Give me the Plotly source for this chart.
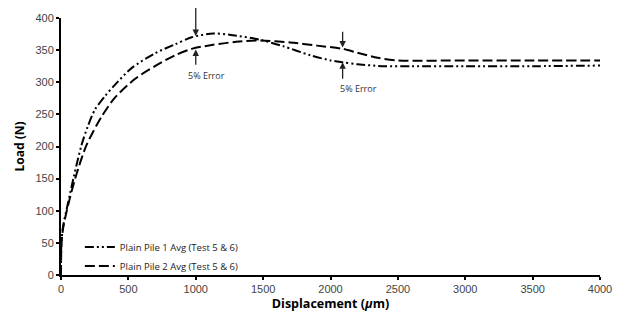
import plotly.graph_objects as go

# Series 1: Plain Pile 1 Avg (Test 5 & 6)
x1 = [0, 3, 15, 50, 95, 152, 200, 251, 325, 400, 524, 697, 846, 970, 1130, 1250, 1478,
      1650, 1850, 2000, 2090, 2200, 2400, 2600, 3000, 3500, 4000]
y1 = [0, 50, 75, 110, 153, 202, 232, 257, 278, 296, 322, 345, 359, 370, 376, 374, 366,
      356, 342, 334, 331, 328, 325, 325, 325, 325, 326]

# Series 2: Plain Pile 2 Avg (Test 5 & 6)
x2 = [0, 3, 15, 52, 105, 189, 300, 400, 548, 697, 846, 970, 1119, 1300, 1478,
      1700, 1900, 2090, 2200, 2350, 2500, 3000, 3500, 4000]
y2 = [0, 45, 72, 108, 150, 202, 246, 276, 305, 325, 342, 352, 358, 363, 365,
      362, 357, 352, 346, 338, 334, 334, 334, 334]

names = ["Plain Pile 1 Avg (Test 5 & 6)", "Plain Pile 2 Avg (Test 5 & 6)"]
x_ticks = [0, 500, 1000, 1500, 2000, 2500, 3000, 3500, 4000]
y_ticks = [0, 50, 100, 150, 200, 250, 300, 350, 400]

# Annotation arrows: (x, tail_y, tip_y)
arrows = [(1000, 418, 372), (1000, 325, 351), (2090, 381, 354), (2090, 303, 331)]
labels = [(1077, 311, "5% Error"), (2206, 290, "5% Error")]

fig = go.Figure()
fig.add_trace(go.Scatter(x=x1, y=y1, mode="lines", name=names[0],
                         line=dict(color="black", width=2, dash="9px,3px,2px,3px,2px,3px",
                                   shape="spline", smoothing=0.8)))
fig.add_trace(go.Scatter(x=x2, y=y2, mode="lines", name=names[1],
                         line=dict(color="black", width=2, dash="10px,4px",
                                   shape="spline", smoothing=0.8)))

for (ax_, t, h) in arrows:
    fig.add_annotation(x=ax_, y=h, ax=ax_, ay=t, xref="x", yref="y", axref="x", ayref="y",
                       showarrow=True, arrowhead=2, arrowsize=1, arrowwidth=1.3,
                       arrowcolor="#222", text="")
for (lx, ly, txt) in labels:
    fig.add_annotation(x=lx, y=ly, text=txt, showarrow=False, xref="x", yref="y",
                       font=dict(size=9, color="#333", family="Open Sans"))

fig.update_layout(
    width=625, height=320,
    margin=dict(l=61, r=25, t=12, b=36),
    plot_bgcolor="white", paper_bgcolor="white",
    font=dict(family="Liberation Sans, Arial", color="#333"),
    showlegend=True,
    legend=dict(x=0.035, y=0.165, xanchor="left", yanchor="top", bgcolor="rgba(0,0,0,0)",
                font=dict(size=9.5, family="Open Sans", color="#222"), itemwidth=30,
                tracegroupgap=0),
    xaxis=dict(range=[0, 4000], tickvals=x_ticks, showgrid=False, zeroline=False,
               showline=True, linecolor="black", linewidth=2, ticks="outside",
               ticklen=3, tickwidth=1.5, tickcolor="black",
               tickfont=dict(size=11, color="#444"),
               title=dict(text="<b>Displacement (<i>μ</i>m)</b>", font=dict(size=12.5, color="black", family="Open Sans"),
                          standoff=4)),
    yaxis=dict(range=[0, 400], tickvals=y_ticks, showgrid=False, zeroline=False,
               showline=True, linecolor="black", linewidth=2, ticks="outside",
               ticklen=3, tickwidth=1.5, tickcolor="black",
               tickfont=dict(size=11, color="#444"),
               title=dict(text="<b>Load (N)</b>", font=dict(size=12, color="black", family="Open Sans"),
                          standoff=8)),
)

fig.write_html("out.html")
